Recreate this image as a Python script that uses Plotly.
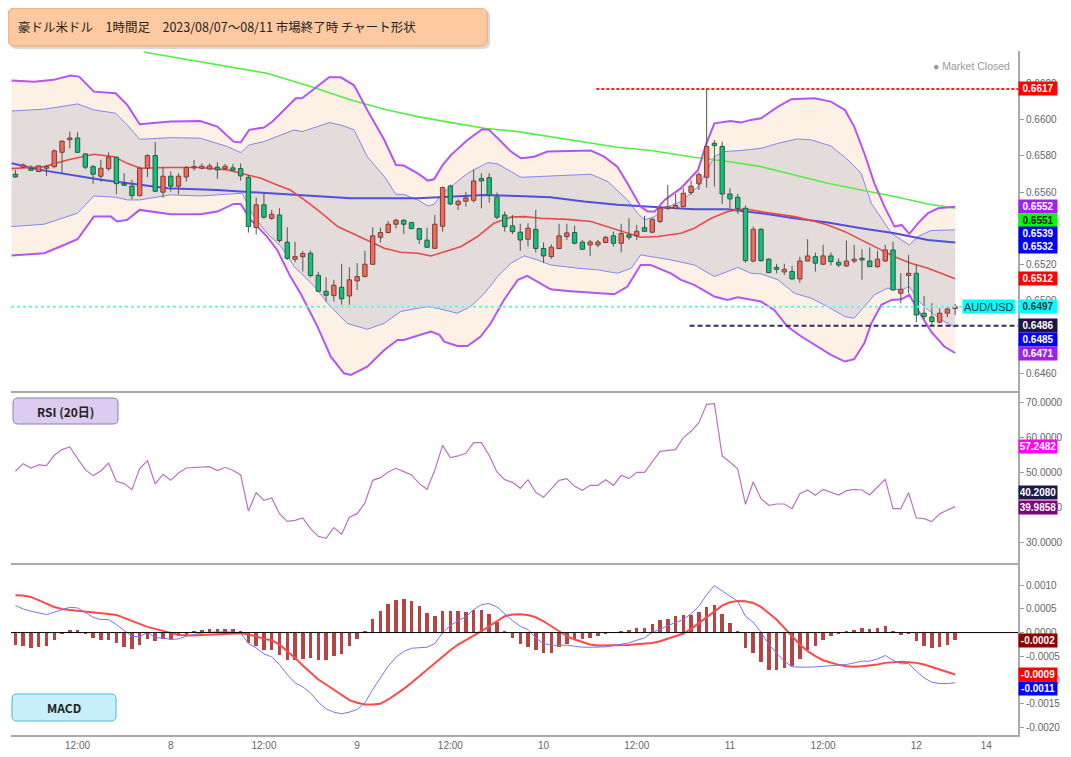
import plotly.graph_objects as go
from plotly.subplots import make_subplots

# hour index: 0 = 2023/08/07 04:00 JST, one candle per hour
hours = list(range(122))

opens = [
    0.65699, 0.65739, 0.65732, 0.65714, 0.65732, 0.65741, 0.65820, 0.65890, 0.65899, 0.65811,
    0.65741, 0.65688, 0.65730, 0.65793, 0.65647, 0.65634, 0.65581, 0.65732, 0.65802, 0.65600,
    0.65688, 0.65633, 0.65684, 0.65734, 0.65732, 0.65728, 0.65738, 0.65730, 0.65734, 0.65730,
    0.65682, 0.65405, 0.65530, 0.65456, 0.65474, 0.65324, 0.65230, 0.65244, 0.65263, 0.65141,
    0.65053, 0.65029, 0.65075, 0.65027, 0.65110, 0.65134, 0.65202, 0.65351, 0.65377, 0.65423,
    0.65445, 0.65432, 0.65399, 0.65335, 0.65290, 0.65412, 0.65634, 0.65531, 0.65550, 0.65555,
    0.65675, 0.65680, 0.65574, 0.65474, 0.65414, 0.65379, 0.65340, 0.65395, 0.65289, 0.65244,
    0.65289, 0.65355, 0.65377, 0.65324, 0.65309, 0.65309, 0.65322, 0.65359, 0.65318, 0.65364,
    0.65360, 0.65404, 0.65379, 0.65438, 0.65511, 0.65511, 0.65520, 0.65598, 0.65646, 0.65682,
    0.65870, 0.65853, 0.65590, 0.65572, 0.65511, 0.65220, 0.65395, 0.65230, 0.65185, 0.65160,
    0.65162, 0.65121, 0.65220, 0.65244, 0.65202, 0.65248, 0.65213, 0.65193, 0.65220, 0.65235,
    0.65220, 0.65189, 0.65220, 0.65281, 0.65042, 0.65140, 0.65152, 0.64932, 0.64911, 0.64882,
    0.64932, 0.64957]
highs = [
    0.65723, 0.65759, 0.65748, 0.65748, 0.65750, 0.65837, 0.65888, 0.65934, 0.65931, 0.65815,
    0.65750, 0.65778, 0.65820, 0.65796, 0.65704, 0.65668, 0.65741, 0.65809, 0.65877, 0.65741,
    0.65714, 0.65704, 0.65745, 0.65778, 0.65759, 0.65759, 0.65765, 0.65756, 0.65756, 0.65759,
    0.65695, 0.65570, 0.65600, 0.65502, 0.65511, 0.65406, 0.65327, 0.65276, 0.65278, 0.65160,
    0.65130, 0.65116, 0.65204, 0.65185, 0.65208, 0.65277, 0.65406, 0.65404, 0.65441, 0.65454,
    0.65450, 0.65436, 0.65403, 0.65404, 0.65474, 0.65631, 0.65642, 0.65561, 0.65601, 0.65726,
    0.65704, 0.65704, 0.65598, 0.65493, 0.65474, 0.65425, 0.65428, 0.65502, 0.65322, 0.65312,
    0.65425, 0.65425, 0.65416, 0.65336, 0.65336, 0.65336, 0.65359, 0.65382, 0.65425, 0.65456,
    0.65419, 0.65469, 0.65456, 0.65520, 0.65640, 0.65590, 0.65622, 0.65664, 0.65710, 0.66170,
    0.65888, 0.65879, 0.65622, 0.65590, 0.65526, 0.65410, 0.65401, 0.65235, 0.65204, 0.65204,
    0.65193, 0.65244, 0.65340, 0.65267, 0.65309, 0.65267, 0.65235, 0.65333, 0.65309, 0.65285,
    0.65296, 0.65277, 0.65309, 0.65327, 0.65152, 0.65254, 0.65198, 0.65027, 0.64987, 0.64959,
    0.64968, 0.64983]
lows = [
    0.65680, 0.65735, 0.65717, 0.65710, 0.65690, 0.65732, 0.65704, 0.65842, 0.65815, 0.65726,
    0.65646, 0.65657, 0.65717, 0.65589, 0.65634, 0.65561, 0.65576, 0.65682, 0.65601, 0.65570,
    0.65603, 0.65589, 0.65658, 0.65719, 0.65726, 0.65723, 0.65673, 0.65723, 0.65717, 0.65664,
    0.65377, 0.65366, 0.65454, 0.65447, 0.65322, 0.65226, 0.65213, 0.65162, 0.65130, 0.65048,
    0.64996, 0.64996, 0.64978, 0.64978, 0.65060, 0.65130, 0.65198, 0.65322, 0.65373, 0.65401,
    0.65368, 0.65395, 0.65314, 0.65292, 0.65287, 0.65382, 0.65528, 0.65502, 0.65520, 0.65542,
    0.65511, 0.65542, 0.65450, 0.65382, 0.65368, 0.65276, 0.65300, 0.65267, 0.65208, 0.65233,
    0.65285, 0.65336, 0.65312, 0.65281, 0.65248, 0.65296, 0.65318, 0.65300, 0.65267, 0.65336,
    0.65336, 0.65381, 0.65373, 0.65428, 0.65502, 0.65508, 0.65517, 0.65585, 0.65612, 0.65625,
    0.65631, 0.65535, 0.65511, 0.65480, 0.65211, 0.65213, 0.65217, 0.65152, 0.65152, 0.65143,
    0.65116, 0.65101, 0.65217, 0.65162, 0.65198, 0.65195, 0.65186, 0.65186, 0.65208, 0.65116,
    0.65186, 0.65180, 0.65217, 0.65057, 0.64987, 0.65042, 0.64882, 0.64898, 0.64863, 0.64876,
    0.64910, 0.64922]
closes = [
    0.65684, 0.65750, 0.65721, 0.65745, 0.65741, 0.65828, 0.65881, 0.65899, 0.65820, 0.65738,
    0.65699, 0.65732, 0.65793, 0.65647, 0.65638, 0.65581, 0.65732, 0.65802, 0.65605, 0.65688,
    0.65633, 0.65688, 0.65736, 0.65741, 0.65743, 0.65745, 0.65723, 0.65743, 0.65721, 0.65690,
    0.65410, 0.65530, 0.65462, 0.65478, 0.65333, 0.65235, 0.65244, 0.65261, 0.65140, 0.65053,
    0.65031, 0.65086, 0.65011, 0.65116, 0.65134, 0.65202, 0.65359, 0.65377, 0.65423, 0.65445,
    0.65423, 0.65399, 0.65340, 0.65296, 0.65423, 0.65625, 0.65535, 0.65550, 0.65568, 0.65662,
    0.65662, 0.65583, 0.65462, 0.65410, 0.65382, 0.65336, 0.65401, 0.65289, 0.65248, 0.65296,
    0.65359, 0.65375, 0.65318, 0.65285, 0.65325, 0.65325, 0.65351, 0.65318, 0.65371, 0.65351,
    0.65384, 0.65384, 0.65450, 0.65511, 0.65519, 0.65526, 0.65594, 0.65633, 0.65697, 0.65852,
    0.65857, 0.65590, 0.65563, 0.65509, 0.65222, 0.65395, 0.65222, 0.65156, 0.65174, 0.65174,
    0.65121, 0.65220, 0.65248, 0.65208, 0.65248, 0.65217, 0.65198, 0.65220, 0.65230, 0.65226,
    0.65189, 0.65230, 0.65281, 0.65060, 0.65064, 0.65152, 0.64922, 0.64913, 0.64886, 0.64932,
    0.64955, 0.64968]

# bollinger bands (+-3 sigma purple, +-2 sigma blue), read at break points
bb_up3_x = [-0.5, 2.4, 4.9, 7.1, 8.2, 10.1, 12.9, 14.4, 16.0, 20.0, 23.8, 26.0, 28.1, 29.0, 30.1,
            32.0, 33.1, 35.0, 36.1, 36.9, 38.9, 40.4, 41.9, 43.6, 45.3, 47.5, 49.0, 50.0, 51.8, 53.1,
            53.9, 55.0, 56.1, 58.2, 60.1, 61.0, 62.1, 63.8, 65.1, 66.8, 68.5, 71.1, 74.1, 75.8, 77.5,
            78.8, 80.5, 81.4, 82.3, 83.6, 85.7, 87.9, 88.9, 90.0, 92.1, 93.4, 94.7, 96.0, 98.2, 99.9,
            102.9, 105.0, 106.8, 108.0, 109.3, 110.6, 111.9, 113.2, 114.1, 115.1, 116.2, 117.5, 118.8, 121.0]
bb_up3 = [0.66216, 0.66209, 0.66220, 0.66244, 0.66238, 0.66155, 0.66146, 0.66082, 0.65975, 0.65990,
          0.65993, 0.65962, 0.65879, 0.65874, 0.65944, 0.65957, 0.65990, 0.66072, 0.66118, 0.66118,
          0.66183, 0.66234, 0.66234, 0.66190, 0.66054, 0.65888, 0.65750, 0.65747, 0.65704, 0.65664,
          0.65671, 0.65750, 0.65806, 0.65888, 0.65947, 0.65944, 0.65898, 0.65824, 0.65787, 0.65796,
          0.65824, 0.65828, 0.65830, 0.65796, 0.65741, 0.65649, 0.65520, 0.65493, 0.65493, 0.65557,
          0.65622, 0.65723, 0.65861, 0.65980, 0.65993, 0.65984, 0.65999, 0.66008, 0.66072, 0.66113,
          0.66118, 0.66100, 0.66054, 0.65962, 0.65815, 0.65649, 0.65520, 0.65410, 0.65419, 0.65370,
          0.65428, 0.65484, 0.65511, 0.65520]
bb_up2_x = [-0.5, 3.7, 8.0, 10.1, 12.9, 14.4, 16.0, 20.0, 23.8, 27.3, 29.0, 30.1, 32.0, 33.7, 35.9,
            36.9, 38.9, 40.4, 41.9, 43.6, 45.3, 47.5, 49.0, 50.0, 51.8, 53.1, 53.9, 55.0, 56.1, 58.2,
            60.8, 62.1, 63.8, 65.1, 67.2, 71.1, 74.1, 76.3, 77.5, 78.8, 80.1, 81.0, 82.3, 83.6, 85.7,
            87.9, 90.0, 91.3, 93.4, 96.0, 98.2, 100.7, 102.5, 105.0, 107.2, 108.9, 110.2, 111.5, 112.8,
            114.1, 115.1, 116.2, 117.9, 121.0]
bb_up2 = [0.66048, 0.66058, 0.66087, 0.66054, 0.66036, 0.65971, 0.65892, 0.65901, 0.65898, 0.65852,
          0.65818, 0.65861, 0.65879, 0.65907, 0.65944, 0.65934, 0.65962, 0.65984, 0.65971, 0.65944,
          0.65796, 0.65686, 0.65588, 0.65588, 0.65557, 0.65524, 0.65533, 0.65594, 0.65631, 0.65704,
          0.65763, 0.65756, 0.65714, 0.65682, 0.65686, 0.65695, 0.65699, 0.65658, 0.65612, 0.65557,
          0.65484, 0.65447, 0.65465, 0.65511, 0.65548, 0.65631, 0.65796, 0.65824, 0.65830, 0.65842,
          0.65870, 0.65894, 0.65888, 0.65855, 0.65778, 0.65704, 0.65539, 0.65456, 0.65373, 0.65336,
          0.65309, 0.65355, 0.65388, 0.65392]
bb_lo2_x = [-0.5, 3.7, 8.0, 10.1, 12.9, 14.4, 16.0, 20.0, 23.8, 28.1, 29.2, 30.7, 32.4, 34.2, 35.9,
            38.5, 40.2, 42.7, 45.3, 47.5, 49.6, 51.8, 53.1, 54.3, 56.9, 58.6, 60.4, 62.1, 63.8, 65.5,
            67.2, 68.9, 72.4, 75.0, 77.5, 79.3, 80.5, 81.8, 84.4, 87.4, 90.0, 91.7, 93.0, 94.7, 96.0,
            98.2, 100.3, 102.5, 104.6, 106.8, 108.0, 109.3, 110.6, 112.3, 114.1, 115.1, 116.2, 117.5,
            119.2, 121.0]
bb_lo2 = [0.65410, 0.65423, 0.65484, 0.65579, 0.65572, 0.65557, 0.65557, 0.65585, 0.65579, 0.65594,
          0.65594, 0.65465, 0.65373, 0.65300, 0.65189, 0.65079, 0.64987, 0.64876, 0.64843, 0.64876,
          0.64941, 0.64959, 0.64968, 0.64959, 0.64932, 0.64968, 0.65042, 0.65134, 0.65208, 0.65248,
          0.65226, 0.65198, 0.65180, 0.65171, 0.65152, 0.65180, 0.65254, 0.65244, 0.65226, 0.65198,
          0.65134, 0.65162, 0.65185, 0.65152, 0.65149, 0.65116, 0.65042, 0.65014, 0.64968, 0.64913,
          0.64904, 0.64968, 0.65033, 0.65070, 0.65060, 0.65079, 0.65005, 0.64950, 0.64895, 0.64854]
bb_lo3_x = [-0.5, 3.7, 5.8, 8.0, 10.1, 12.3, 13.1, 14.4, 16.0, 20.0, 23.8, 26.0, 28.1, 29.0, 30.3,
            32.4, 33.7, 35.4, 36.7, 38.9, 40.6, 42.3, 43.2, 45.3, 47.5, 49.2, 50.0, 51.8, 53.5, 54.6,
            55.2, 56.9, 58.2, 59.9, 61.2, 62.9, 64.7, 65.9, 67.2, 68.9, 71.1, 74.1, 77.1, 78.8, 80.5,
            81.8, 84.4, 85.7, 87.4, 90.0, 91.7, 93.0, 94.7, 96.0, 97.7, 99.4, 101.2, 103.3, 105.0,
            106.8, 108.0, 109.3, 110.2, 111.5, 112.8, 114.1, 115.1, 116.2, 117.9, 119.6, 121.0]
bb_lo3 = [0.65250, 0.65263, 0.65300, 0.65340, 0.65465, 0.65465, 0.65438, 0.65447, 0.65502, 0.65478,
          0.65478, 0.65493, 0.65535, 0.65535, 0.65447, 0.65355, 0.65281, 0.65134, 0.65042, 0.64858,
          0.64692, 0.64600, 0.64591, 0.64637, 0.64729, 0.64784, 0.64784, 0.64806, 0.64830, 0.64812,
          0.64775, 0.64751, 0.64751, 0.64803, 0.64876, 0.65005, 0.65116, 0.65138, 0.65106, 0.65064,
          0.65055, 0.65046, 0.65036, 0.65079, 0.65198, 0.65198, 0.65152, 0.65116, 0.65088, 0.65024,
          0.65005, 0.65020, 0.65005, 0.64996, 0.64950, 0.64858, 0.64803, 0.64748, 0.64702, 0.64665,
          0.64678, 0.64766, 0.64876, 0.64978, 0.65005, 0.65009, 0.65033, 0.64950, 0.64830, 0.64748,
          0.64712]

# moving averages
ma_red_x = [-0.5, 3.7, 6.7, 10.1, 12.7, 14.4, 16.1, 19.6, 23.8, 27.3, 29.9, 31.6, 33.7, 35.4, 37.2,
            38.9, 41.5, 43.2, 45.3, 47.5, 49.6, 51.8, 53.5, 55.2, 57.4, 59.5, 61.6, 63.8, 65.5, 67.7,
            71.1, 74.1, 76.7, 78.8, 80.5, 82.7, 85.7, 87.4, 89.6, 91.7, 93.9, 96.0, 98.2, 100.3, 102.5,
            104.6, 106.8, 108.9, 111.0, 113.2, 115.3, 117.5, 121.0]
ma_red = [0.65730, 0.65741, 0.65778, 0.65809, 0.65796, 0.65759, 0.65732, 0.65736, 0.65736, 0.65723,
          0.65695, 0.65677, 0.65640, 0.65612, 0.65557, 0.65502, 0.65410, 0.65375, 0.65336, 0.65290,
          0.65268, 0.65263, 0.65248, 0.65272, 0.65300, 0.65355, 0.65428, 0.65462, 0.65465, 0.65456,
          0.65450, 0.65438, 0.65401, 0.65373, 0.65351, 0.65355, 0.65373, 0.65401, 0.65456, 0.65493,
          0.65508, 0.65493, 0.65480, 0.65465, 0.65443, 0.65419, 0.65382, 0.65336, 0.65290, 0.65244,
          0.65208, 0.65180, 0.65122]
ma_blue_x = [-0.5, 3.2, 11.0, 19.6, 26.0, 32.4, 38.9, 43.2, 51.8, 56.1, 60.4, 64.7, 68.9, 73.2, 77.5,
             81.8, 87.4, 91.7, 96.0, 100.3, 104.6, 108.9, 113.2, 117.5, 121.0]
ma_blue = [0.65760, 0.65723, 0.65668, 0.65622, 0.65612, 0.65594, 0.65576, 0.65566, 0.65566, 0.65576,
           0.65585, 0.65579, 0.65572, 0.65548, 0.65530, 0.65520, 0.65506, 0.65506, 0.65484, 0.65456,
           0.65432, 0.65401, 0.65373, 0.65336, 0.65322]
ma_green_x = [16.5, 23.0, 32.4, 38.0, 43.2, 47.5, 51.8, 56.1, 60.4, 64.7, 68.9, 73.2, 77.5, 81.8, 87.4,
              91.7, 96.0, 100.3, 104.6, 108.9, 113.2, 117.5, 121.0]
ma_green = [0.66374, 0.66325, 0.66256, 0.66183, 0.66109, 0.66058, 0.66017, 0.65984, 0.65953, 0.65934,
            0.65907, 0.65879, 0.65848, 0.65830, 0.65793, 0.65769, 0.65741, 0.65695, 0.65649, 0.65612,
            0.65576, 0.65535, 0.65512]

# RSI (20)
rsi = [
    50.29, 52.48, 51.24, 52.10, 51.90, 54.86, 56.48, 57.24, 53.90, 50.76,
    49.05, 50.38, 52.67, 47.43, 46.76, 45.05, 51.05, 53.33, 46.67, 49.43,
    47.71, 49.81, 51.24, 51.33, 51.33, 51.62, 50.48, 51.43, 50.57, 49.24,
    38.95, 44.19, 42.00, 42.67, 38.19, 36.00, 36.29, 36.95, 33.90, 31.71,
    31.14, 34.19, 32.29, 37.14, 38.19, 41.24, 47.71, 48.48, 50.10, 51.14,
    50.19, 49.24, 46.76, 45.14, 50.57, 57.71, 54.19, 54.67, 55.43, 58.48,
    58.48, 54.86, 50.10, 47.90, 47.14, 45.43, 47.90, 44.29, 42.86, 45.14,
    47.71, 48.19, 46.00, 44.86, 46.29, 46.29, 47.90, 46.29, 49.14, 48.19,
    50.00, 50.00, 53.14, 56.00, 56.29, 56.48, 59.90, 61.71, 64.19, 69.43,
    69.62, 54.67, 52.95, 50.95, 40.86, 47.24, 42.48, 40.57, 40.95, 40.95,
    39.62, 43.90, 44.95, 43.43, 45.14, 44.29, 43.52, 44.76, 45.14, 44.95,
    43.52, 45.81, 48.00, 39.62, 39.62, 44.19, 36.95, 36.76, 35.90, 38.19,
    39.14, 40.208]
rsi_upper_mark = 57.2482
rsi_signal_mark = 39.9858

# MACD
macd_line = [
    0.000567, 0.000497, 0.000448, 0.000413, 0.000378, 0.000427, 0.000483, 0.000532, 0.000518, 0.000427,
    0.000322, 0.000273, 0.000273, 0.000168, 0.000049, -0.000077, -0.000091, 0.000007, -0.000112, -0.000112,
    -0.000147, -0.000133, -0.000077, -0.000042, -0.000007, 0.000007, 0.000014, 0.000014, 0.000007, -0.000007,
    -0.000231, -0.000322, -0.000448, -0.000511, -0.000672, -0.000882, -0.001057, -0.001141, -0.001267, -0.001463,
    -0.001603, -0.001673, -0.001708, -0.001673, -0.001617, -0.001477, -0.001197, -0.000952, -0.000707, -0.000518,
    -0.000399, -0.000329, -0.000315, -0.000308, -0.000231, -0.000007, 0.000147, 0.000252, 0.000329, 0.000483,
    0.000588, 0.000609, 0.000539, 0.000399, 0.000252, 0.000133, 0.000063, -0.000112, -0.000231, -0.000266,
    -0.000259, -0.000266, -0.000287, -0.000308, -0.000308, -0.000308, -0.000301, -0.000273, -0.000245, -0.000217,
    -0.000161, -0.000112, 0.000007, 0.000063, 0.000147, 0.000203, 0.000273, 0.000399, 0.000553, 0.000798,
    0.000987, 0.000875, 0.000763, 0.000658, 0.000343, 0.000217, 0.000007, -0.000252, -0.000427, -0.000602,
    -0.000721, -0.000728, -0.000728, -0.000721, -0.000707, -0.000693, -0.000693, -0.000672, -0.000637, -0.000602,
    -0.000602, -0.000553, -0.000483, -0.000581, -0.000658, -0.000651, -0.000812, -0.000952, -0.001043, -0.001071,
    -0.001071, -0.001057]
macd_signal = [
    0.000784, 0.000777, 0.000749, 0.000686, 0.000609, 0.000539, 0.000497, 0.000476, 0.000462, 0.000448,
    0.000427, 0.000413, 0.000392, 0.000371, 0.000308, 0.000238, 0.000168, 0.000119, 0.000077, 0.000028,
    -0.000007, -0.000049, -0.000063, -0.000063, -0.000049, -0.000042, -0.000042, -0.000028, -0.000021, -0.000014,
    -0.000042, -0.000077, -0.000133, -0.000161, -0.000252, -0.000392, -0.000532, -0.000693, -0.000847, -0.000987,
    -0.001092, -0.001197, -0.001316, -0.001421, -0.001477, -0.001512, -0.001512, -0.001498, -0.001407, -0.001302,
    -0.001183, -0.001057, -0.000917, -0.000777, -0.000637, -0.000511, -0.000371, -0.000252, -0.000161, -0.000077,
    0.000028, 0.000133, 0.000238, 0.000343, 0.000378, 0.000385, 0.000371, 0.000322, 0.000238, 0.000133,
    0.000028, -0.000077, -0.000147, -0.000203, -0.000252, -0.000273, -0.000273, -0.000273, -0.000266, -0.000259,
    -0.000245, -0.000238, -0.000217, -0.000182, -0.000133, -0.000077, -0.000021, 0.000077, 0.000203, 0.000322,
    0.000448, 0.000567, 0.000637, 0.000665, 0.000658, 0.000623, 0.000539, 0.000413, 0.000273, 0.000098,
    -0.000077, -0.000252, -0.000392, -0.000497, -0.000581, -0.000637, -0.000679, -0.000707, -0.000721, -0.000707,
    -0.000693, -0.000672, -0.000637, -0.000623, -0.000616, -0.000623, -0.000637, -0.000672, -0.000721, -0.000777,
    -0.000833, -0.000882]
macd_hist = [
    -0.000252, -0.000287, -0.000329, -0.000308, -0.000287, -0.000147, -0.000035, 0.000056, 0.000056, -0.000035,
    -0.000119, -0.000154, -0.000147, -0.000224, -0.000301, -0.000350, -0.000266, -0.000133, -0.000182, -0.000133,
    -0.000133, -0.000077, -0.000042, 0.000021, 0.000063, 0.000077, 0.000077, 0.000077, 0.000077, 0.000028,
    -0.000217, -0.000273, -0.000357, -0.000371, -0.000462, -0.000567, -0.000581, -0.000553, -0.000532, -0.000581,
    -0.000581, -0.000497, -0.000441, -0.000287, -0.000140, 0.000035, 0.000287, 0.000462, 0.000602, 0.000693,
    0.000714, 0.000665, 0.000553, 0.000413, 0.000357, 0.000462, 0.000462, 0.000448, 0.000434, 0.000483,
    0.000483, 0.000392, 0.000217, 0.000021, -0.000119, -0.000245, -0.000294, -0.000371, -0.000427, -0.000427,
    -0.000308, -0.000231, -0.000161, -0.000133, -0.000119, -0.000063, -0.000021, -0.000007, 0.000035, 0.000063,
    0.000091, 0.000105, 0.000182, 0.000259, 0.000287, 0.000343, 0.000378, 0.000378, 0.000427, 0.000539,
    0.000588, 0.000392, 0.000203, 0.000021, -0.000329, -0.000427, -0.000623, -0.000777, -0.000791, -0.000749,
    -0.000707, -0.000553, -0.000371, -0.000273, -0.000147, -0.000063, -0.000028, 0.000021, 0.000063, 0.000091,
    0.000077, 0.000091, 0.000147, 0.000021, -0.000049, -0.000035, -0.000182, -0.000273, -0.000322, -0.000308,
    -0.000252, -0.000161]

# axis labels
x_tick_pos = [8, 20, 32, 44, 56, 68, 80, 92, 104, 116, 125]
x_tick_text = ["12:00", "8", "12:00", "9", "12:00", "10", "12:00", "11", "12:00", "12", "14"]
price_ticks = [0.646, 0.648, 0.650, 0.652, 0.654, 0.656, 0.658, 0.660, 0.662]
rsi_ticks = [30, 40, 50, 60, 70]
macd_ticks = [0.001, 0.0005, 0.0, -0.0005, -0.001, -0.0015, -0.002]
macd_tick_text = ["0.0010", "0.0005", "0.0000", "-0.0005", "-0.0010", "-0.0015", "-0.0020"]

title_text = "豪ドル米ドル　1時間足　2023/08/07～08/11 市場終了時 チャート形状"

# ---- page geometry ----
# the page body adds an 8px margin, so the figure is drawn 8px in from the window corner;
# hand-placed boxes below are given in window pixels
PAGE = 8
W, H = 1071 - PAGE, 757 - PAGE
PLOT_L, PLOT_R, PLOT_T, PLOT_B = 11, 1017.7, 51, 735   # plot area in window pixels
ML, MT = PLOT_L - PAGE, PLOT_T - PAGE
MR, MB = W - (PLOT_R - PAGE), H - (PLOT_B - PAGE)
X_RANGE = [-0.57, 129.09]
BODY_HALF = 0.28


def px(x):
    return (x - PLOT_L) / (PLOT_R - PLOT_L)


def py(y):
    return (PLOT_B - y) / (PLOT_B - PLOT_T)


def rounded_box(x0, y0, x1, y1, r):
    # window-pixel box -> svg path in paper coords
    p = [
        "M %f,%f" % (px(x0 + r), py(y0)),
        "L %f,%f" % (px(x1 - r), py(y0)),
        "Q %f,%f %f,%f" % (px(x1), py(y0), px(x1), py(y0 + r)),
        "L %f,%f" % (px(x1), py(y1 - r)),
        "Q %f,%f %f,%f" % (px(x1), py(y1), px(x1 - r), py(y1)),
        "L %f,%f" % (px(x0 + r), py(y1)),
        "Q %f,%f %f,%f" % (px(x0), py(y1), px(x0), py(y1 - r)),
        "L %f,%f" % (px(x0), py(y0 + r)),
        "Q %f,%f %f,%f" % (px(x0), py(y0), px(x0 + r), py(y0)),
        "Z",
    ]
    return " ".join(p)


def body_outline(up):
    # one closed rectangle per candle, separated by None
    xs, ys = [], []
    for i in hours:
        o, c = opens[i], closes[i]
        if (c >= o) != up:
            continue
        xs += [i - BODY_HALF, i + BODY_HALF, i + BODY_HALF, i - BODY_HALF, i - BODY_HALF, None]
        ys += [o, o, c, c, o, None]
    return xs, ys


fig = make_subplots(rows=3, cols=1, shared_xaxes=True, vertical_spacing=0,
                    row_heights=[340, 172, 172])

# band fills
fig.add_trace(go.Scatter(x=bb_up3_x + bb_lo3_x[::-1], y=bb_up3 + bb_lo3[::-1], fill="toself",
                         fillcolor="#fdf1e6", mode="lines", line=dict(width=0), hoverinfo="skip"),
              row=1, col=1)
fig.add_trace(go.Scatter(x=bb_up2_x + bb_lo2_x[::-1], y=bb_up2 + bb_lo2[::-1], fill="toself",
                         fillcolor="#e4dbdb", mode="lines", line=dict(width=0), hoverinfo="skip"),
              row=1, col=1)

# band and average lines
for xs, ys, col, w in [
    (bb_up2_x, bb_up2, "#8088ee", 1),
    (bb_lo2_x, bb_lo2, "#8088ee", 1),
    (ma_green_x, ma_green, "#55ee44", 1.6),
    (ma_blue_x, ma_blue, "#5050dd", 2),
    (ma_red_x, ma_red, "#e84a4a", 1.6),
    (bb_up3_x, bb_up3, "#b455f0", 2),
    (bb_lo3_x, bb_lo3, "#b455f0", 2),
]:
    fig.add_trace(go.Scatter(x=xs, y=ys, mode="lines", line=dict(color=col, width=w)), row=1, col=1)

# candles on top of the lines: wicks, then bodies (red = up, green = down)
wick_x, wick_y = [], []
for i in hours:
    wick_x += [i, i, None]
    wick_y += [lows[i], highs[i], None]
fig.add_trace(go.Scatter(x=wick_x, y=wick_y, mode="lines", line=dict(color="#4a5a52", width=1)),
              row=1, col=1)
ux, uy = body_outline(True)
fig.add_trace(go.Scatter(x=ux, y=uy, mode="lines", fill="toself", fillcolor="#f26a5c",
                         line=dict(color="#7a3f38", width=1)), row=1, col=1)
dx, dy = body_outline(False)
fig.add_trace(go.Scatter(x=dx, y=dy, mode="lines", fill="toself", fillcolor="#12c27a",
                         line=dict(color="#2a5a44", width=1)), row=1, col=1)

# RSI panel
fig.add_hrect(y0=30, y1=70, row=2, col=1, fillcolor="#f1e4f1", line_width=0, layer="below")
fig.add_hline(y=70, row=2, col=1, line=dict(color="#999999", width=1, dash="4px,3px"))
fig.add_hline(y=30, row=2, col=1, line=dict(color="#999999", width=1, dash="4px,3px"))
fig.add_hline(y=rsi_upper_mark, row=2, col=1, line=dict(color="#ff33ff", width=1.5, dash="dot"))
fig.add_hline(y=rsi_signal_mark, row=2, col=1, line=dict(color="#2a2050", width=1.5, dash="dot"))
fig.add_trace(go.Scatter(x=hours, y=rsi, mode="lines", line=dict(color="#bb72c2", width=1.2)),
              row=2, col=1)

# MACD panel
fig.add_trace(go.Bar(x=hours, y=macd_hist, width=0.45, marker=dict(color="#b54545", line=dict(width=0))),
              row=3, col=1)
fig.add_hline(y=0, row=3, col=1, line=dict(color="#000000", width=1))
fig.add_trace(go.Scatter(x=hours, y=macd_signal, mode="lines", line=dict(color="#ff4848", width=2)),
              row=3, col=1)
fig.add_trace(go.Scatter(x=hours, y=macd_line, mode="lines", line=dict(color="#7474ff", width=1)),
              row=3, col=1)

# price level lines in main panel
fig.add_shape(type="line", xref="x", yref="y", x0=74.8, x1=X_RANGE[1], y0=max(highs), y1=max(highs),
              line=dict(color="#ff2020", width=2, dash="3px,2px"))
fig.add_shape(type="line", xref="x", yref="y", x0=X_RANGE[0], x1=X_RANGE[1], y0=closes[-1], y1=closes[-1],
              line=dict(color="#70f0f0", width=2, dash="dot"))
fig.add_shape(type="line", xref="x", yref="y", x0=86.8, x1=X_RANGE[1], y0=min(lows), y1=min(lows),
              line=dict(color="#2c2c6c", width=2, dash="5px,3px"))


def side_label(text, yref, y, bg, color="white", yshift=0):
    fig.add_annotation(xref="paper", x=1, xanchor="left", yref=yref, y=y, yshift=yshift,
                       text="<b>%s</b>" % text, showarrow=False, bgcolor=bg,
                       font=dict(family="Liberation Sans", size=10, color=color),
                       width=36, height=11, borderpad=1)


side_label("%.4f" % max(highs), "y", max(highs), "#ff0000")
side_label("%.4f" % bb_up3[-1], "y", bb_up3[-1], "#a020f0")
side_label("%.4f" % ma_green[-1], "y", ma_green[-1], "#00ff00", color="#111111", yshift=-12.5)
side_label("%.4f" % bb_up2[-1], "y", bb_up2[-1], "#0000ff", yshift=-4)
side_label("%.4f" % ma_blue[-1], "y", ma_blue[-1], "#0000ff", yshift=-4.4)
side_label("%.4f" % ma_red[-1], "y", ma_red[-1], "#ff0000")
side_label("%.4f" % closes[-1], "y", closes[-1], "#00ffff", color="#333333")
side_label("%.4f" % min(lows), "y", min(lows), "#1c1442")
side_label("%.4f" % bb_lo2[-1], "y", bb_lo2[-1], "#0000ff", yshift=-12)
side_label("%.4f" % bb_lo3[-1], "y", bb_lo3[-1], "#a020f0")
side_label("%.4f" % rsi_upper_mark, "y2", rsi_upper_mark, "#ff00ff")
side_label("%.4f" % rsi[-1], "y2", rsi[-1], "#1e1a48", yshift=14)
side_label("%.4f" % rsi_signal_mark, "y2", rsi_signal_mark, "#800080")
side_label("%.4f" % macd_hist[-1], "y3", macd_hist[-1], "#8b0000")
side_label("%.4f" % macd_signal[-1], "y3", macd_signal[-1], "#ff0000")
side_label("%.4f" % macd_line[-1], "y3", macd_line[-1], "#0000ff", yshift=-6)

fig.add_annotation(xref="paper", x=1, xanchor="right", xshift=-2, yref="y", y=closes[-1],
                   text="AUD/USD", showarrow=False, bgcolor="#00ffff",
                   font=dict(family="Liberation Sans", size=11, color="#333333"), height=11, borderpad=1)

fig.add_annotation(xref="paper", yref="paper", x=px(1012), y=py(66), xanchor="right", yanchor="middle",
                   text="● Market Closed", showarrow=False,
                   font=dict(family="Liberation Sans", size=10.5, color="#9a9a9a"))

# title box and panel name boxes
fig.add_shape(type="path", xref="paper", yref="paper", path=rounded_box(10, 10, 490, 49, 7),
              fillcolor="rgba(0,0,0,0.15)", line=dict(width=0))
fig.add_shape(type="path", xref="paper", yref="paper", path=rounded_box(8, 8, 487, 46, 7),
              fillcolor="#fcc9a1", line=dict(color="#eea46c", width=1))
fig.add_annotation(xref="paper", yref="paper", x=px(16), y=py(27), xanchor="left", yanchor="middle",
                   text=title_text, showarrow=False,
                   font=dict(family="Noto Sans CJK JP", size=12.5, color="#222222"))

fig.add_shape(type="path", xref="paper", yref="paper", path=rounded_box(13, 398, 118, 424, 5),
              fillcolor="#dccdf0", line=dict(color="#8f7ab8", width=1))
fig.add_annotation(xref="paper", yref="paper", x=px(65.5), y=py(411), xanchor="center", yanchor="middle",
                   text="<b>RSI (20日)</b>", showarrow=False,
                   font=dict(family="Noto Sans CJK JP", size=12, color="#222222"))
fig.add_shape(type="path", xref="paper", yref="paper", path=rounded_box(12, 694, 116, 721, 5),
              fillcolor="#c8f0fa", line=dict(color="#4cb8d0", width=1))
fig.add_annotation(xref="paper", yref="paper", x=px(64), y=py(707.5), xanchor="center", yanchor="middle",
                   text="<b>MACD</b>", showarrow=False,
                   font=dict(family="Noto Sans CJK JP", size=12, color="#222222"))

# axes
fig.update_xaxes(range=X_RANGE, showgrid=False, zeroline=False, showline=True, linecolor="#aaaaaa",
                 linewidth=2, rangeslider_visible=False, tickvals=x_tick_pos, ticktext=x_tick_text,
                 tickfont=dict(family="Liberation Sans", size=10, color="#666666"), ticks="",
                 automargin=False)
yaxis_common = dict(side="right", showgrid=False, zeroline=False, showline=True, linecolor="#aaaaaa",
                    linewidth=2, ticks="outside", ticklen=4, tickcolor="#999999", automargin=False,
                    tickfont=dict(family="Liberation Sans", size=10, color="#666666"))
fig.update_yaxes(range=[0.645023, 0.663793], tickvals=price_ticks, tickformat=".4f",
                 row=1, col=1, **yaxis_common)
fig.update_yaxes(range=[24.09, 73.23], tickvals=rsi_ticks, tickformat=".4f", row=2, col=1, **yaxis_common)
fig.update_yaxes(range=[-0.0021535, 0.0014625], tickvals=macd_ticks, ticktext=macd_tick_text,
                 row=3, col=1, **yaxis_common)

fig.update_layout(
    width=W, height=H,
    margin=dict(l=ML, r=MR, t=MT, b=MB, autoexpand=False),
    paper_bgcolor="white", plot_bgcolor="white",
    showlegend=False, bargap=0,
    hovermode=False,
)

fig.write_html("out.html")
